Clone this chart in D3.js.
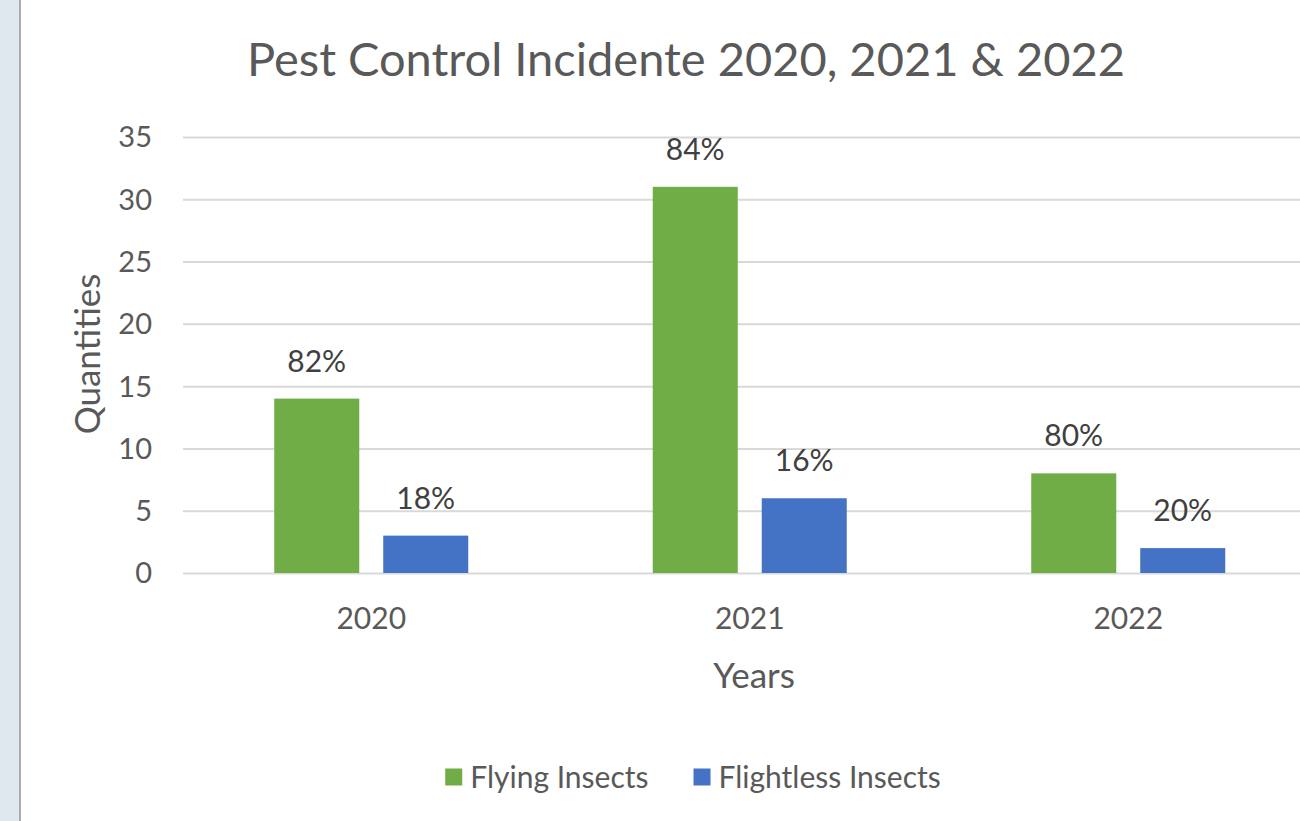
<!DOCTYPE html>
<html>
<head>
<meta charset="utf-8">
<script src="https://cdn.jsdelivr.net/npm/d3@7"></script>
<style>
  html, body { margin: 0; padding: 0; background: #fff; }
  svg { display: block; font-family: Lato, "Open Sans", sans-serif; }
</style>
</head>
<body>
<div id="chart"></div>
<script>
// chart data
const years = ["2020", "2021", "2022"];
const seriesNames = ["Flying Insects", "Flightless Insects"];
const flying = [14, 31, 8];
const flightless = [3, 6, 2];
const flyingPct = ["82%", "84%", "80%"];
const flightlessPct = ["18%", "16%", "20%"];
const yTicks = [0, 5, 10, 15, 20, 25, 30, 35];

const W = 1300, H = 821;
const colors = { "Flying Insects": "#70ad47", "Flightless Insects": "#4472c4" };
const textCol = "#595959";

const rows = years.map((yr, i) => ({
  year: yr,
  vals: [
    { key: seriesNames[0], v: flying[i], pct: flyingPct[i] },
    { key: seriesNames[1], v: flightless[i], pct: flightlessPct[i] }
  ]
}));

const svg = d3.select("#chart").append("svg")
  .attr("width", W).attr("height", H).attr("viewBox", `0 0 ${W} ${H}`);

// left window strip
svg.append("rect").attr("x", 0).attr("y", 0).attr("width", 19).attr("height", H).attr("fill", "#dfe8ef");
svg.append("rect").attr("x", 19).attr("y", 0).attr("width", 2).attr("height", H).attr("fill", "#a9adb1");

const x0 = d3.scaleBand().domain(years).range([182, 1317.5]).paddingInner(0).paddingOuter(0);
const x1 = d3.scaleBand().domain(seriesNames).range([0, 194]).paddingInner(0.22);
const y = d3.scaleLinear().domain([0, 35]).range([573, 137]);

// gridlines
svg.append("g")
  .call(d3.axisLeft(y).tickValues(yTicks).tickSize(-(W - 183)).tickFormat(""))
  .attr("transform", "translate(183,0)")
  .call(s => s.select(".domain").remove())
  .selectAll("line").attr("stroke", "#d9d9d9").attr("stroke-width", 2);

// y tick labels
svg.append("g").selectAll("text").data(yTicks).join("text")
  .attr("x", 152).attr("y", d => y(d)).attr("dy", "0.36em")
  .attr("text-anchor", "end").attr("fill", textCol).attr("font-size", 29)
  .text(d => d);

// bars
const grp = svg.append("g").selectAll("g").data(rows).join("g")
  .attr("transform", d => `translate(${x0(d.year) + x0.bandwidth() / 2 - 97},0)`);

grp.selectAll("rect").data(d => d.vals).join("rect")
  .attr("x", d => x1(d.key)).attr("width", x1.bandwidth())
  .attr("y", d => y(d.v)).attr("height", d => y(0) - y(d.v))
  .attr("fill", d => colors[d.key]);

grp.selectAll("text").data(d => d.vals).join("text")
  .attr("x", d => x1(d.key) + x1.bandwidth() / 2)
  .attr("y", d => y(d.v) - 27)
  .attr("text-anchor", "middle").attr("fill", "#404040").attr("font-size", 30)
  .text(d => d.pct);

// x tick labels
svg.append("g").selectAll("text").data(years).join("text")
  .attr("x", d => x0(d) + x0.bandwidth() / 2).attr("y", 629)
  .attr("text-anchor", "middle").attr("fill", textCol).attr("font-size", 30)
  .text(d => d);

// title
svg.append("text").attr("x", 686).attr("y", 76)
  .attr("text-anchor", "middle").attr("fill", textCol).attr("font-size", 47)
  .text("Pest Control Incidente 2020, 2021 & 2022");

// axis titles
svg.append("text").attr("x", 754).attr("y", 688)
  .attr("text-anchor", "middle").attr("fill", textCol).attr("font-size", 35)
  .text("Years");
svg.append("text").attr("transform", "translate(100,354) rotate(-90)")
  .attr("text-anchor", "middle").attr("fill", textCol).attr("font-size", 35)
  .text("Quantities");

// legend
const leg = svg.append("g").attr("transform", "translate(0,777)");
const items = leg.selectAll("g").data(seriesNames).join("g");
items.append("rect").attr("width", 17).attr("height", 17).attr("y", -8.5)
  .attr("fill", d => colors[d]);
items.append("text").attr("x", 25).attr("dy", "0.36em")
  .attr("fill", textCol).attr("font-size", 30).text(d => d);
const widths = [];
items.each(function () { widths.push(this.getBBox().width); });
const gap = 45;
const total = d3.sum(widths) + gap * (widths.length - 1);
let cx = 693 - total / 2;
items.attr("transform", (d, i) => {
  const t = `translate(${cx},0)`;
  cx += widths[i] + gap;
  return t;
});
</script>
</body>
</html>
